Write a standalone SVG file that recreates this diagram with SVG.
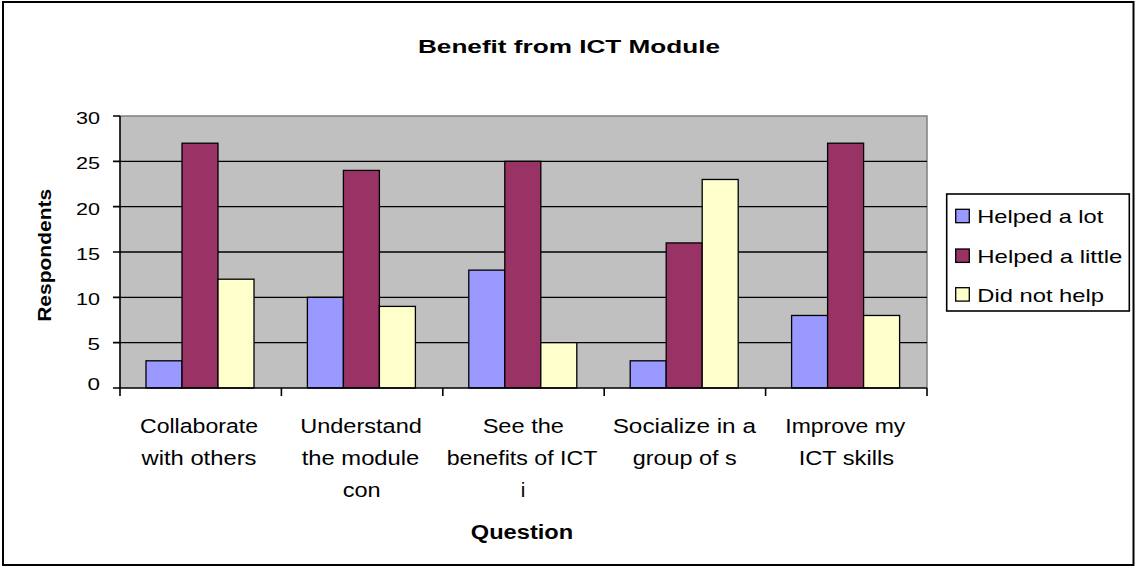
<svg xmlns="http://www.w3.org/2000/svg" width="1137" height="569" viewBox="0 0 1137 569">
<style>
text{font-family:"Liberation Sans",Arial,sans-serif;fill:#000}
.b{font-weight:bold}
.tick{font-size:16px;text-anchor:end}
.cat{font-size:20.5px;text-anchor:middle}
.leg{font-size:18.5px}
.grid{stroke:#000;stroke-width:1.3}
.bar{stroke:#000;stroke-width:1.3}
.s1{fill:#9999FF}.s2{fill:#993366}.s3{fill:#FFFFCC}
</style>
<rect x="3" y="2" width="1130.5" height="563" fill="#fff" stroke="#000" stroke-width="2"/>
<g id="title"><text class="b" x="569" y="53" font-size="18.5" text-anchor="middle" textLength="302" lengthAdjust="spacingAndGlyphs">Benefit from ICT Module</text></g>
<g id="plot">
<rect x="120" y="116" width="807" height="272" fill="#C0C0C0"/>
<path d="M120 116H927V388" fill="none" stroke="#808080" stroke-width="1.5"/>
<g class="grid"><path d="M120 161.33H927M120 206.67H927M120 252H927M120 297.33H927M120 342.67H927"/></g>
</g>
<g id="series-helped-a-lot" class="bar s1">
<rect x="146" y="360.8" width="36" height="27.2"/>
<rect x="307.4" y="297.33" width="36" height="90.67"/>
<rect x="468.8" y="270.13" width="36" height="117.87"/>
<rect x="630.2" y="360.8" width="36" height="27.2"/>
<rect x="791.6" y="315.47" width="36" height="72.53"/>
</g>
<g id="series-helped-a-little" class="bar s2">
<rect x="182" y="143.2" width="36" height="244.8"/>
<rect x="343.4" y="170.4" width="36" height="217.6"/>
<rect x="504.8" y="161.33" width="36" height="226.67"/>
<rect x="666.2" y="242.93" width="36" height="145.07"/>
<rect x="827.6" y="143.2" width="36" height="244.8"/>
</g>
<g id="series-did-not-help" class="bar s3">
<rect x="218" y="279.2" width="36" height="108.8"/>
<rect x="379.4" y="306.4" width="36" height="81.6"/>
<rect x="540.8" y="342.67" width="36" height="45.33"/>
<rect x="702.2" y="179.47" width="36" height="208.53"/>
<rect x="863.6" y="315.47" width="36" height="72.53"/>
</g>
<g id="axes" fill="none" stroke="#000" stroke-width="1.6">
<path d="M120 116V388H927"/>
<path d="M113 116H120M113 161.33H120M113 206.67H120M113 252H120M113 297.33H120M113 342.67H120M113 388H120"/>
<path d="M120 388V396M281.4 388V396M442.8 388V396M604.2 388V396M765.6 388V396M927 388V396"/>
</g>
<g id="y-labels">
<text class="tick" x="100" y="124" textLength="24" lengthAdjust="spacingAndGlyphs">30</text>
<text class="tick" x="100" y="169" textLength="24" lengthAdjust="spacingAndGlyphs">25</text>
<text class="tick" x="100" y="214.5" textLength="24" lengthAdjust="spacingAndGlyphs">20</text>
<text class="tick" x="100" y="259.5" textLength="24" lengthAdjust="spacingAndGlyphs">15</text>
<text class="tick" x="100" y="305" textLength="24" lengthAdjust="spacingAndGlyphs">10</text>
<text class="tick" x="100" y="350" textLength="12.5" lengthAdjust="spacingAndGlyphs">5</text>
<text class="tick" x="100" y="390" textLength="12.5" lengthAdjust="spacingAndGlyphs">0</text>
</g>
<g id="y-title"><text class="b" font-size="19" text-anchor="middle" transform="translate(51.3 255.3) rotate(-90)" textLength="133" lengthAdjust="spacingAndGlyphs">Respondents</text></g>
<g id="x-labels">
<text class="cat" x="199" y="433" textLength="118" lengthAdjust="spacingAndGlyphs">Collaborate</text>
<text class="cat" x="199" y="465" textLength="115" lengthAdjust="spacingAndGlyphs">with others</text>
<text class="cat" x="361" y="433" textLength="121.7" lengthAdjust="spacingAndGlyphs">Understand</text>
<text class="cat" x="360.5" y="465" textLength="117.7" lengthAdjust="spacingAndGlyphs">the module</text>
<text class="cat" x="361.7" y="497" textLength="38" lengthAdjust="spacingAndGlyphs">con</text>
<text class="cat" x="523.3" y="433" textLength="81.3" lengthAdjust="spacingAndGlyphs">See the</text>
<text class="cat" x="522" y="465" textLength="150.7" lengthAdjust="spacingAndGlyphs">benefits of ICT</text>
<text class="cat" x="523" y="497">i</text>
<text class="cat" x="684.3" y="433" textLength="143.3" lengthAdjust="spacingAndGlyphs">Socialize in a</text>
<text class="cat" x="684.7" y="465" textLength="104" lengthAdjust="spacingAndGlyphs">group of s</text>
<text class="cat" x="845.3" y="433" textLength="120" lengthAdjust="spacingAndGlyphs">Improve my</text>
<text class="cat" x="846.3" y="465" textLength="95.3" lengthAdjust="spacingAndGlyphs">ICT skills</text>
</g>
<g id="x-title"><text class="b" x="522" y="539.3" font-size="20" text-anchor="middle" textLength="102.3" lengthAdjust="spacingAndGlyphs">Question</text></g>
<g id="legend">
<rect x="946.7" y="194" width="182.6" height="117" fill="#fff" stroke="#000" stroke-width="1.6"/>
<rect class="bar s1" x="955.7" y="209.3" width="13.6" height="13.4"/>
<rect class="bar s2" x="955.7" y="249" width="13.6" height="13.4"/>
<rect class="bar s3" x="955.7" y="287.7" width="13.6" height="13.4"/>
<text class="leg" x="977.3" y="223.3" textLength="126" lengthAdjust="spacingAndGlyphs">Helped a lot</text>
<text class="leg" x="977.3" y="262.7" textLength="145" lengthAdjust="spacingAndGlyphs">Helped a little</text>
<text class="leg" x="977.3" y="301.7" textLength="126.7" lengthAdjust="spacingAndGlyphs">Did not help</text>
</g>
</svg>
